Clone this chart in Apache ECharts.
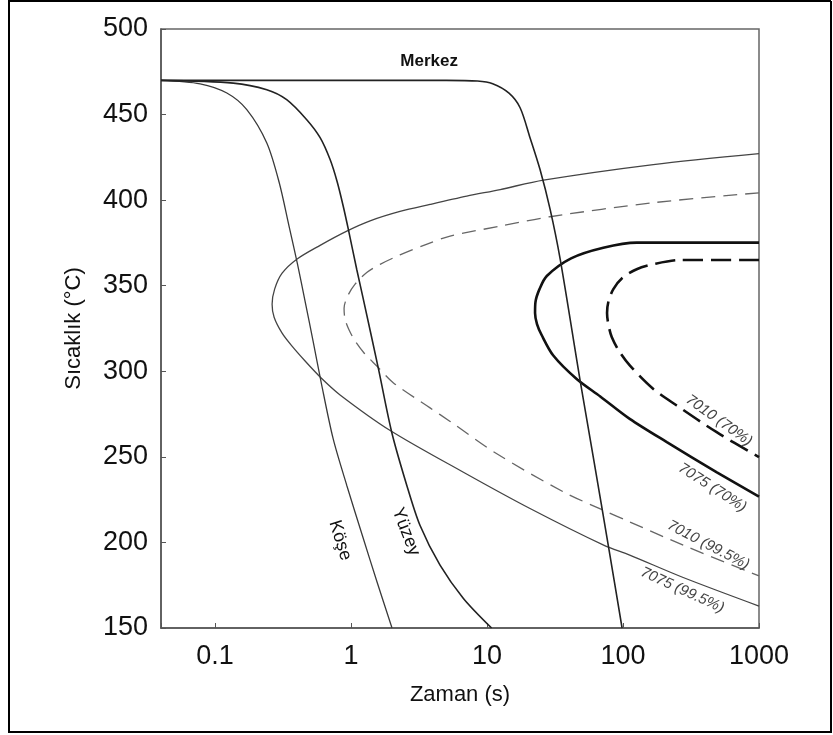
<!DOCTYPE html>
<html>
<head>
<meta charset="utf-8">
<script src="https://cdn.jsdelivr.net/npm/echarts/dist/echarts.min.js"></script>
<style>
html, body { margin: 0; padding: 0; background: #fff; }
#chart { width: 833px; height: 735px; }
</style>
</head>
<body>
<div id="chart"></div>
<script>
// [zaman (s), sicaklik (°C)]
const kose = [[0.04, 470], [0.0776, 468], [0.122, 462.6], [0.171, 452.9], [0.24, 433.4], [0.296, 410.3], [0.35, 384.7], [0.404, 362.5], [0.459, 340.9], [0.5255, 317.6], [0.602, 293.7], [0.738, 260.6], [0.93, 233.3], [1.23, 202.3], [1.55, 177], [2.0, 150]];
const yuzey = [[0.04, 470], [0.136, 468.4], [0.24, 464.5], [0.336, 458.7], [0.472, 447], [0.592, 436.5], [0.701, 423.7], [0.789, 410.9], [0.873, 396.9], [0.955, 382.9], [1.1, 359.6], [1.23, 342.2], [1.59, 301.4], [1.99, 264.4], [2.57, 233.3], [3.21, 210], [4.51, 186.7], [6.7, 167.3], [10.8, 150]];
const merkez = [[0.04, 470], [5, 470], [8.5, 469.6], [11, 468], [14.5, 462.5], [17.5, 454], [20.7, 436.5], [24.5, 418], [29.1, 394.6], [34.5, 365.5], [48.5, 294], [61, 248], [78.4, 197], [98.4, 150]];

// C-curves (upper branch from the right, round the nose, lower branch back to the right)
const c7075_995 = [[1000, 427.2], [167, 420.8], [26, 411.7], [12.5, 406.2], [7.1, 402.3], [3.81, 397.5], [2.29, 393.4], [1.38, 387.9], [0.93, 381.9], [0.592, 373.6], [0.399, 365.5], [0.311, 357.3], [0.274, 348], [0.2625, 339.2], [0.2716, 331.6], [0.311, 322.3], [0.368, 314.7], [0.459, 306], [0.592, 296.7], [0.83, 286.2], [1.94, 265.4], [6.7, 241], [20.7, 219.8], [72, 198.4], [112, 192.6], [277, 179.5], [1000, 162.8]];
const c7010_995 = [[1000, 404.3], [167, 398.5], [29, 390.3], [12.5, 384.8], [5.35, 379], [3.5, 373.9], [2.29, 368], [1.634, 362.5], [1.304, 357.7], [1.07, 350.9], [0.943, 343.9], [0.888, 336.9], [0.903, 330.5], [0.967, 324.1], [1.07, 317.7], [1.246, 310.7], [1.545, 303.1], [2.05, 293.2], [3.81, 278.6], [5.35, 270.7], [11.8, 251.8], [36.5, 229.5], [71.6, 218.8], [112, 212], [277, 198.4], [1000, 180.4]];
const c7075_70 = [[1000, 375.2], [126, 375.2], [71.6, 372.2], [41.5, 366], [27.5, 355.7], [24.3, 348], [22.7, 340.4], [22.54, 334], [23.3, 327.6], [25.2, 321.2], [30.7, 309.2], [45.6, 295.5], [68, 285.3], [112, 272.2], [210, 258.6], [490, 241], [1000, 226.7]];
const c7010_70 = [[1000, 365], [262.5, 365], [171.9, 362.8], [126, 359.6], [98.3, 354.4], [84.9, 348], [78.2, 341], [76.3, 334], [78.2, 327], [82.6, 320], [93.4, 311.9], [112.5, 303.3], [167, 289.7], [248.3, 280], [488.6, 264.4], [1000, 249.8]];

const xMin = 0.04, xMax = 1000;
const yMin = 150, yMax = 500, yStep = 50;

const FONT = '"Liberation Sans", Arial, Helvetica, sans-serif';

const chart = echarts.init(document.getElementById('chart'));

function curve(name, data, color, width, type) {
    return {
        name: name,
        type: 'line',
        data: data,
        showSymbol: false,
        symbol: 'none',
        smooth: 0.3,
        lineStyle: { color: color, width: width, type: type || 'solid' },
        z: 3
    };
}

const option = {
    animation: false,
    backgroundColor: '#fff',
    grid: {
        left: 161, right: 74, top: 29, bottom: 107,
        show: true, borderColor: '#666', borderWidth: 1.5, backgroundColor: 'transparent'
    },
    xAxis: {
        type: 'log',
        logBase: 10,
        min: xMin,
        max: xMax,
        name: 'Zaman (s)',
        nameLocation: 'middle',
        nameGap: 56,
        nameTextStyle: { fontSize: 22, color: '#111', fontFamily: FONT },
        axisLine: { lineStyle: { color: '#555', width: 1.5 } },
        axisTick: { inside: true, length: 5, lineStyle: { color: '#555' } },
        axisLabel: {
            fontSize: 27, color: '#111', fontFamily: FONT, margin: 15,
            formatter: function (v) {
                const l = Math.log10(v);
                if (Math.abs(l - Math.round(l)) > 1e-6) return '';
                return Math.pow(10, Math.round(l)).toFixed(Math.max(0, -Math.round(l)));
            }
        },
        splitLine: { show: false }
    },
    yAxis: {
        type: 'value',
        min: yMin,
        max: yMax,
        interval: yStep,
        name: 'Sıcaklık (°C)',
        nameLocation: 'middle',
        nameGap: 76,
        nameTextStyle: { fontSize: 22, color: '#111', fontFamily: FONT },
        axisLine: { show: true, lineStyle: { color: '#555', width: 1.5 } },
        axisTick: { show: true, inside: true, length: 5, lineStyle: { color: '#555' } },
        axisLabel: { fontSize: 27, color: '#111', fontFamily: FONT, margin: 13 },
        splitLine: { show: false }
    },
    series: [
        curve('7075 (99.5%)', c7075_995, '#444', 1.3),
        curve('7010 (99.5%)', c7010_995, '#666', 1.3, [14, 8]),
        curve('7075 (70%)', c7075_70, '#111', 2.6),
        curve('7010 (70%)', c7010_70, '#111', 2.6, [20, 8]),
        curve('Köşe', kose, '#3a3a3a', 1.3),
        curve('Yüzey', yuzey, '#222', 1.6),
        curve('Merkez', merkez, '#222', 1.6)
    ]
};

chart.setOption(option);

// curve labels, anchored in data coordinates
const labels = [
    { text: 'Merkez', at: [3.75, 481.4], rot: 0, font: 'bold 17px ' + FONT, fill: '#111' },
    { text: 'Köşe', at: [0.83, 201.2], rot: -1.27, font: '18px ' + FONT, fill: '#111' },
    { text: 'Yüzey', at: [2.53, 206.2], rot: -1.2, font: '18px ' + FONT, fill: '#111' },
    { text: '7010 (70%)', at: [508, 271.2], rot: -0.62, font: 'italic 15px ' + FONT, fill: '#444' },
    { text: '7075 (70%)', at: [454, 232], rot: -0.57, font: 'italic 15px ' + FONT, fill: '#444' },
    { text: '7010 (99.5%)', at: [424, 198.4], rot: -0.48, font: 'italic 15px ' + FONT, fill: '#444' },
    { text: '7075 (99.5%)', at: [273, 172.1], rot: -0.43, font: 'italic 15px ' + FONT, fill: '#444' }
];

const graphics = labels.map(function (l) {
    const p = chart.convertToPixel({ gridIndex: 0 }, l.at);
    return {
        type: 'text',
        x: p[0], y: p[1],
        rotation: l.rot,
        z: 10,
        style: { text: l.text, font: l.font, fill: l.fill, align: 'center', verticalAlign: 'middle' }
    };
});

// outer frame of the figure
graphics.push({
    type: 'polyline',
    z: 10,
    shape: { points: [[831, 1], [9, 1], [9, 732], [831, 732], [831, 1]] },
    style: { stroke: '#000', lineWidth: 2, fill: null }
});

chart.setOption({ graphic: graphics });
</script>
</body>
</html>
